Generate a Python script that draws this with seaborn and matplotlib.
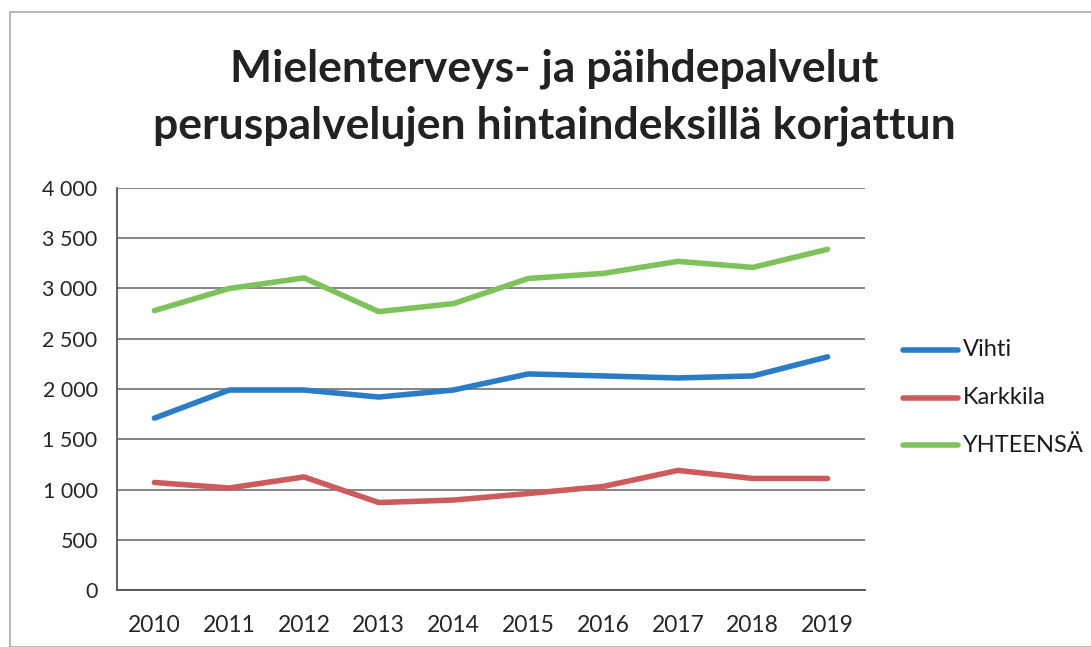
import numpy as np
import pandas as pd
import matplotlib.pyplot as plt
import seaborn as sns
from matplotlib.ticker import FixedLocator, FuncFormatter

# data
years = ['2010', '2011', '2012', '2013', '2014', '2015', '2016', '2017', '2018', '2019']
vihti = [1710, 1990, 1990, 1920, 1990, 2150, 2130, 2110, 2130, 2320]
karkkila = [1070, 1015, 1125, 870, 895, 960, 1030, 1190, 1110, 1110]
yhteensa = [2780, 3000, 3105, 2770, 2850, 3100, 3150, 3270, 3210, 3390]
series_names = ['Vihti', 'Karkkila', 'YHTEENSÄ']

df = pd.DataFrame({
    'x': list(range(len(years))) * 3,
    'arvo': vihti + karkkila + yhteensa,
    'sarja': [n for n in series_names for _ in years],
})

sns.set_style('white')
plt.rcParams['font.family'] = ['Lato', 'DejaVu Sans']

fig = plt.figure(figsize=(10.91, 6.47), dpi=100)
ax = fig.add_axes([117 / 1091, 1 - 590 / 647, (865 - 117) / 1091, (590 - 188) / 647])

palette = {'Vihti': '#2A7CC6', 'Karkkila': '#CD5B5B', 'YHTEENSÄ': '#7EC25C'}
sns.lineplot(data=df, x='x', y='arvo', hue='sarja', palette=palette,
             linewidth=4, ax=ax, legend=False, solid_capstyle='round')

ax.set_xlim(-0.5, len(years) - 0.5)
ax.set_ylim(0, 4000)
ax.set_yticks(np.arange(0, 4001, 500))
ax.yaxis.set_major_formatter(FuncFormatter(lambda v, p: f'{int(v):,}'.replace(',', ' ')))
ax.grid(axis='y', color='#6f6f6f', linewidth=1.2)
ax.set_axisbelow(True)

# excel-style category ticks between labels
ax.xaxis.set_major_locator(FixedLocator(np.arange(-0.5, len(years), 1)))
ax.xaxis.set_minor_locator(FixedLocator(np.arange(len(years))))
ax.set_xticklabels([], minor=False)
ax.set_xticklabels(years, minor=True)
ax.tick_params(axis='x', which='major', length=8, width=1.2, color='#555555', direction='out')
ax.tick_params(axis='x', which='minor', length=0, pad=18, labelsize=16.5)
ax.tick_params(axis='y', length=8, width=1.2, color='#555555', labelsize=15.5, pad=6)
ax.set_xlabel('')
ax.set_ylabel('')

for side in ['top', 'right']:
    ax.spines[side].set_visible(False)
for side in ['left', 'bottom']:
    ax.spines[side].set_color('#555555')
    ax.spines[side].set_linewidth(1.3)

# legend on the right
for i, name in enumerate(series_names):
    y = 1 - (350 + i * 47.5) / 647
    fig.add_artist(plt.Line2D([903 / 1091, 958 / 1091], [y, y], color=palette[name],
                              linewidth=4, solid_capstyle='round'))
    fig.text(963 / 1091, y, name, fontsize=17, va='center', ha='left', color='#1a1a1a')

fig.text(0.508, 1 - 97 / 647, 'Mielenterveys- ja päihdepalvelut\nperuspalvelujen hintaindeksillä korjattun',
         ha='center', va='center', fontsize=32, fontweight='bold', color='#222222', linespacing=1.5)

# chart frame
fig.add_artist(plt.Rectangle((10 / 1091, 0.0), 1.2, 1 - 12 / 647, fill=False,
                             edgecolor='#aaaaaa', linewidth=1.2, transform=fig.transFigure))

fig.savefig('out.png', dpi=100)
